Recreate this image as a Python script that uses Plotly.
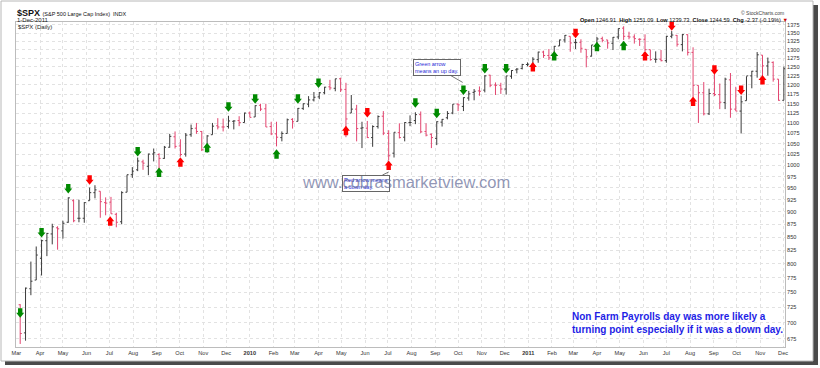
import math
import pandas as pd
import plotly.graph_objects as go

# ---------------- data (weekly OHLC) ----------------
week_open = [
    729, 684, 756, 771, 810, 843, 856, 868, 862, 879, 923, 887, 887, 923, 940, 943, 919, 920, 895, 880,
    941, 979, 990, 1008, 998, 1026, 1025, 1016, 1042, 1067, 1045, 1026, 1072, 1088, 1080, 1036, 1072, 1094, 1091, 1092,
    1105, 1107, 1102, 1126,
    1116, 1146, 1137, 1092, 1074, 1065, 1075, 1110, 1105, 1138, 1149, 1160, 1168, 1179, 1195, 1191, 1217, 1188, 1126, 1136,
    1088, 1088, 1065, 1092, 1118, 1075, 1028, 1077, 1066, 1102, 1107, 1122, 1080, 1073, 1063, 1103, 1114, 1126, 1149, 1143,
    1165, 1180, 1184, 1186, 1227, 1200, 1199, 1189, 1224, 1242, 1246, 1257,
    1258, 1271, 1293, 1283, 1276, 1311, 1329, 1340, 1321, 1322, 1301, 1281, 1315, 1333, 1329, 1319, 1338, 1365, 1340, 1338,
    1331, 1331, 1300, 1272, 1272, 1268, 1340, 1343, 1315, 1345, 1292, 1199, 1179, 1124, 1177, 1174, 1153, 1214, 1136, 1131,
    1158, 1225, 1238, 1284, 1253, 1263, 1216, 1159,
]
week_high = [
    730, 758, 804, 832, 845, 858, 876, 871, 882, 930, 926, 925, 920, 951, 956, 943, 930, 931, 898, 943,
    979, 996, 1018, 1013, 1027, 1039, 1028, 1045, 1074, 1080, 1061, 1076, 1097, 1101, 1081, 1071, 1101, 1113, 1112, 1119,
    1108, 1118, 1127, 1130,
    1146, 1150, 1150, 1104, 1104, 1080, 1112, 1113, 1139, 1151, 1170, 1181, 1181, 1195, 1214, 1217, 1220, 1206, 1173, 1147,
    1104, 1106, 1095, 1120, 1131, 1083, 1078, 1100, 1103, 1120, 1128, 1130, 1100, 1075, 1105, 1111, 1131, 1149, 1151, 1167,
    1184, 1189, 1196, 1227, 1228, 1207, 1206, 1225, 1241, 1247, 1259, 1263,
    1278, 1294, 1297, 1302, 1311, 1330, 1344, 1340, 1332, 1331, 1301, 1314, 1338, 1339, 1329, 1338, 1364, 1371, 1354, 1346,
    1334, 1346, 1300, 1295, 1299, 1341, 1356, 1344, 1347, 1346, 1307, 1199, 1208, 1190, 1230, 1204, 1220, 1233, 1195, 1171,
    1224, 1239, 1293, 1284, 1277, 1266, 1216, 1251,
]
week_low = [
    667, 672, 745, 771, 779, 814, 836, 826, 847, 878, 879, 879, 878, 923, 928, 888, 893, 896, 869, 875,
    941, 972, 987, 990, 978, 1009, 991, 1015, 1041, 1039, 1020, 1020, 1067, 1074, 1033, 1029, 1072, 1085, 1080, 1087,
    1085, 1093, 1102, 1115,
    1116, 1131, 1091, 1071, 1044, 1056, 1075, 1087, 1105, 1134, 1141, 1156, 1162, 1175, 1186, 1183, 1181, 1066, 1126, 1056,
    1040, 1064, 1043, 1087, 1071, 1011, 1018, 1063, 1056, 1093, 1098, 1076, 1068, 1040, 1047, 1092, 1110, 1123, 1131, 1131,
    1158, 1159, 1171, 1180, 1194, 1173, 1176, 1174, 1217, 1232, 1243, 1252,
    1257, 1262, 1276, 1270, 1276, 1311, 1321, 1294, 1302, 1291, 1249, 1280, 1305, 1322, 1303, 1299, 1331, 1329, 1331, 1318,
    1311, 1296, 1268, 1262, 1266, 1262, 1334, 1309, 1295, 1283, 1168, 1101, 1120, 1121, 1170, 1136, 1136, 1114, 1131, 1075,
    1158, 1191, 1220, 1215, 1226, 1209, 1158, 1159,
]
week_close = [
    683, 757, 769, 816, 843, 857, 870, 866, 877, 929, 882, 887, 919, 940, 946, 921, 918, 896, 879, 940,
    979, 987, 1010, 1005, 1026, 1029, 1016, 1042, 1068, 1044, 1025, 1071, 1087, 1080, 1036, 1069, 1093, 1091, 1091, 1106,
    1106, 1102, 1126, 1115,
    1145, 1136, 1091, 1074, 1066, 1075, 1109, 1104, 1138, 1150, 1160, 1167, 1179, 1194, 1192, 1217, 1187, 1111, 1136, 1087,
    1089, 1065, 1092, 1117, 1076, 1022, 1078, 1065, 1102, 1102, 1122, 1079, 1071, 1065, 1104, 1110, 1125, 1149, 1147, 1166,
    1176, 1183, 1183, 1225, 1199, 1199, 1189, 1225, 1240, 1244, 1257, 1258,
    1272, 1293, 1283, 1276, 1310, 1329, 1343, 1320, 1321, 1304, 1279, 1314, 1332, 1328, 1320, 1337, 1364, 1340, 1338, 1333,
    1331, 1300, 1271, 1272, 1268, 1340, 1344, 1316, 1345, 1292, 1199, 1179, 1124, 1177, 1174, 1154, 1216, 1136, 1131, 1155,
    1225, 1238, 1285, 1253, 1264, 1216, 1159, 1245,
]
week_dates = pd.date_range("2009-03-06", periods=len(week_close), freq="W-FRI")

# Non-farm payroll days: arrow level, colour (G = up day, R = down day), pointing direction
nfp_dates = [
    "2009-03-06", "2009-04-03", "2009-05-08", "2009-06-05", "2009-07-02", "2009-08-07", "2009-09-04",
    "2009-10-02", "2009-11-06", "2009-12-04", "2010-01-08", "2010-02-05", "2010-03-05", "2010-04-01",
    "2010-05-07", "2010-06-04", "2010-07-02", "2010-08-06", "2010-09-03", "2010-10-08", "2010-11-05",
    "2010-12-03", "2011-01-07", "2011-02-04", "2011-03-04", "2011-04-01", "2011-05-06", "2011-06-03",
    "2011-07-08", "2011-08-05", "2011-09-02", "2011-10-07", "2011-11-04",
]
nfp_level = [
    715, 858, 948, 967, 882, 1031, 985, 1008, 1042, 1141, 1162, 1027, 1162, 1204, 1083, 1126, 1001,
    1151, 1124, 1185, 1244, 1244, 1251, 1283, 1348, 1310, 1313, 1283, 1371, 1157, 1241, 1185, 1215,
]
nfp_color = list("GGGRRGGRGGGGGGRRRGGGGGRGRGGRRRRRR")
nfp_point = ["down", "down", "down", "down", "up", "down", "up", "up", "up", "down", "down", "up",
             "down", "down", "up", "down", "up", "down", "down", "down", "down", "down", "up", "up",
             "down", "up", "up", "up", "down", "up", "down", "down", "up"]

y_ticks = list(range(675, 1400, 25))
month_ticks = pd.date_range("2009-03-01", "2011-12-01", freq="MS")
month_text = [("<b>%d</b>" % d.year) if d.month == 1 else d.strftime("%b") for d in month_ticks]

# ---------------- figure ----------------
W, H = 820, 368
ML, MR, MT, MB = 16, 35, 22, 21
PW, PH = W - ML - MR, H - MT - MB


def px_x(px):
    return (px - ML) / PW


def px_y(py):
    return (H - MB - py) / PH


FONT = "Liberation Sans, Arial, sans-serif"

fig = go.Figure()
fig.add_trace(go.Ohlc(
    x=week_dates, open=week_open, high=week_high, low=week_low, close=week_close,
    increasing=dict(line=dict(color="#3a3a3a", width=1)),
    decreasing=dict(line=dict(color="#e2456f", width=1)),
    tickwidth=0.3, hoverinfo="skip", showlegend=False,
))

shapes = []
# picture frame with drop shadow
shapes.append(dict(type="rect", xref="paper", yref="paper", layer="below",
                   x0=px_x(5), x1=px_x(818), y0=px_y(365), y1=px_y(5),
                   fillcolor="#4a4a4a", line=dict(width=0)))
shapes.append(dict(type="rect", xref="paper", yref="paper", layer="below",
                   x0=px_x(1), x1=px_x(813), y0=px_y(361), y1=px_y(1),
                   fillcolor="white", line=dict(color="#b8b8b8", width=1)))

DOWN = "M-2.2,5 L2.2,5 L2.2,0.5 L4,0.5 L0,-4.5 L-4,0.5 L-2.2,0.5 Z"
UP = "M-2.2,-5 L2.2,-5 L2.2,-0.5 L4,-0.5 L0,4.5 L-4,-0.5 L-2.2,-0.5 Z"
for d, lv, c, p in zip(nfp_dates, nfp_level, nfp_color, nfp_point):
    shapes.append(dict(type="path", xref="x", yref="y", xsizemode="pixel", ysizemode="pixel",
                       xanchor=d, yanchor=lv, path=DOWN if p == "down" else UP,
                       fillcolor="#008a00" if c == "G" else "#ff0000", line=dict(width=0),
                       layer="above"))

annotations = [
    dict(xref="paper", yref="paper", x=px_x(15), y=px_y(13), xanchor="left", yanchor="middle",
         showarrow=False,
         text="<b>$SPX</b> <span style='font-size:5.5px'>(S&P 500 Large Cap Index)  INDX</span>",
         font=dict(family=FONT, size=9, color="#111")),
    dict(xref="paper", yref="paper", x=px_x(15), y=px_y(20), xanchor="left", yanchor="middle",
         showarrow=False, text="1-Dec-2011", font=dict(family=FONT, size=6, color="#222")),
    dict(xref="paper", yref="paper", x=px_x(16), y=px_y(27), xanchor="left", yanchor="middle",
         showarrow=False, text="$SPX (Daily)", font=dict(family=FONT, size=6, color="#222")),
    dict(xref="paper", yref="paper", x=px_x(786), y=px_y(13), xanchor="right", yanchor="middle",
         showarrow=False, text="© StockCharts.com", font=dict(family=FONT, size=5, color="#444")),
    dict(xref="paper", yref="paper", x=px_x(790), y=px_y(20), xanchor="right", yanchor="middle",
         showarrow=False,
         text="<b>Open</b> 1246.91  <b>High</b> 1251.09  <b>Low</b> 1239.73  <b>Close</b> 1244.59  "
              "<b>Chg</b> -2.37 (-0.19%) <span style='color:#cc0000'>▼</span>",
         font=dict(family=FONT, size=5.6, color="#111")),
    # callouts
    dict(x="2010-10-07", y=math.log10(1207), xref="x", yref="y", ax=-26, ay=-15,
         text="Green arrow<br>means an up day.", showarrow=True, arrowhead=0, arrowwidth=0.8,
         arrowcolor="#555", align="left", bgcolor="white", bordercolor="#666", borderwidth=1,
         borderpad=1, font=dict(family=FONT, size=5.5, color="#2a2ad6")),
    dict(x="2010-07-02", y=math.log10(985), xref="x", yref="y", ax=-23, ay=11,
         text="Red arrow means<br>a down day.", showarrow=True, arrowhead=0, arrowwidth=0.8,
         arrowcolor="#555", align="left", bgcolor="white", bordercolor="#666", borderwidth=1,
         borderpad=1, font=dict(family=FONT, size=5.5, color="#2a2ad6")),
    # note
    dict(xref="paper", yref="paper", x=px_x(570), y=px_y(323), xanchor="left", yanchor="middle",
         showarrow=False, align="left",
         text="<b>Non Farm Payrolls day was more likely a<br>turning point especially if it was a down day.</b>",
         font=dict(family=FONT, size=10, color="#1e1ee6")),
    # watermark
    dict(xref="paper", yref="paper", x=px_x(406), y=px_y(182), xanchor="center", yanchor="middle",
         showarrow=False, text="www.cobrasmarketview.com",
         font=dict(family=FONT, size=16.5, color="rgba(95,105,150,0.7)")),
]

grid = dict(showgrid=True, gridcolor="#e2e2e2", gridwidth=1, griddash="dot",
            showline=True, linecolor="#bcbcbc", linewidth=1, mirror=True, zeroline=False, ticks="")

fig.update_layout(
    width=W, height=H, margin=dict(l=ML, r=MR, t=MT, b=MB),
    paper_bgcolor="white", plot_bgcolor="white",
    showlegend=False, shapes=shapes, annotations=annotations,
    xaxis=dict(type="date", range=["2009-02-28 12:00", "2011-12-03 12:00"],
               tickmode="array", tickvals=list(month_ticks), ticktext=month_text,
               tickfont=dict(family=FONT, size=5.6, color="#333"),
               rangeslider=dict(visible=False), **grid),
    yaxis=dict(type="log", range=[2.82113, 3.14120], side="right",
               tickmode="array", tickvals=y_ticks, ticktext=[str(v) for v in y_ticks],
               tickfont=dict(family=FONT, size=5.6, color="#333"), **grid),
)

fig.write_html("out.html", config={"displayModeBar": False},
               post_script="document.body.style.margin='0px';")
